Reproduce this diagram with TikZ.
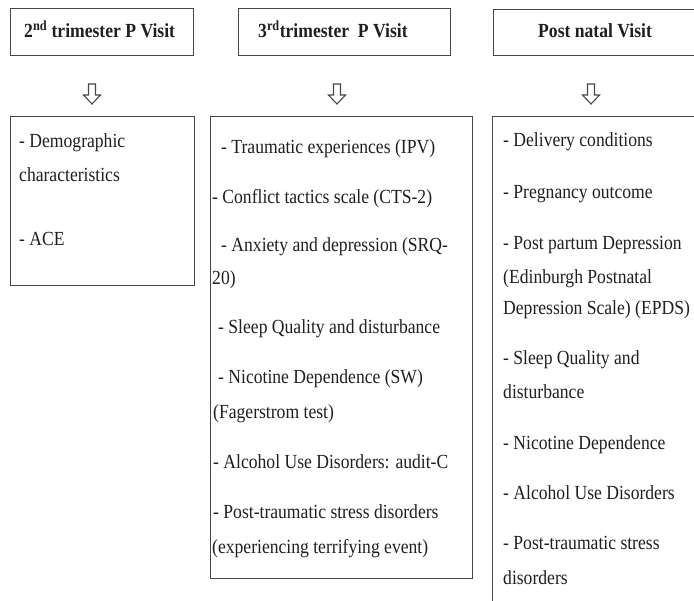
\documentclass[tikz,border=0pt]{standalone}
\usepackage{fontspec}
\setmainfont{Liberation Serif}[FakeStretch=0.88]
\begin{document}
\begin{tikzpicture}[x=1pt,y=-1pt,
  box/.style={draw=black!72,line width=1.3pt,inner sep=0pt,anchor=north west},
  txt/.style={anchor=base west,inner sep=0pt,text=black!88,font=\fontsize{20}{24}\selectfont},
  head/.style={anchor=base west,inner sep=0pt,text=black!88,font=\fontsize{20}{24}\selectfont\bfseries},
  arr/.style={draw=black!72,line width=1.1pt,fill=white,line join=miter},
  downarr/.pic={\draw[arr] (-3.5,0) -- (-3.5,11) -- (-8.5,11) -- (0,20) -- (8.5,11) -- (3.5,11) -- (3.5,0) -- cycle;}]
\useasboundingbox (0,0) rectangle (694,601);
\clip (0,0) rectangle (694,601);
% header boxes
\node[box,minimum width=183pt,minimum height=47pt] (h1) at (10,8) {};
\node[box,minimum width=212pt,minimum height=47pt] (h2) at (238,8) {};
\node[box,minimum width=230pt,minimum height=46pt] (h3) at (493,9) {};
\node[head] (h1t) at (24,38) {2\textsuperscript{nd} trimester P Visit};
\node[head] (h2t) at (258,38) {3\textsuperscript{rd}trimester\ \ P Visit};
\node[head] (h3t) at (538,38) {Post natal Visit};
% arrows
\coordinate (a1) at (92,84);
\coordinate (a2) at (337,84);
\coordinate (a3) at (591,84);
\pic at (a1) {downarr};
\pic at (a2) {downarr};
\pic at (a3) {downarr};
% content boxes
\node[box,minimum width=184pt,minimum height=169pt] (b1) at (10,116) {};
\node[box,minimum width=262pt,minimum height=462pt] (b2) at (210,116) {};
\node[box,minimum width=240pt,minimum height=530pt] (b3) at (492,116) {};
% box 1 text
\node[txt] (p1) at (19,148) {- Demographic};
\node[txt] (p2) at (19,182) {characteristics};
\node[txt] (p3) at (19,246) {- ACE};
% box 2 text
\node[txt] (q1) at (221,154) {- Traumatic experiences (IPV)};
\node[txt] (q2) at (212,204) {- Conflict tactics scale (CTS-2)};
\node[txt] (q3) at (221,252) {- Anxiety and depression (SRQ-};
\node[txt] (q4) at (212,285) {20)};
\node[txt] (q5) at (218,334) {- Sleep Quality and disturbance};
\node[txt] (q6) at (218,384) {- Nicotine Dependence (SW)};
\node[txt] (q7) at (213,419) {(Fagerstrom test)};
\node[txt] (q8) at (213,469) {- Alcohol Use Disorders: audit-C};
\node[txt] (q9) at (213,519) {- Post-traumatic stress disorders};
\node[txt] (q10) at (212,554) {(experiencing terrifying event)};
% box 3 text
\node[txt] (r1) at (503,147) {- Delivery conditions};
\node[txt] (r2) at (503,199) {- Pregnancy outcome};
\node[txt] (r3) at (503,250) {- Post partum Depression};
\node[txt] (r4) at (503,284) {(Edinburgh Postnatal};
\node[txt] (r5) at (503,315) {Depression Scale) (EPDS)};
\node[txt] (r6) at (503,365) {- Sleep Quality and};
\node[txt] (r7) at (503,399) {disturbance};
\node[txt] (r8) at (503,450) {- Nicotine Dependence};
\node[txt] (r9) at (503,500) {- Alcohol Use Disorders};
\node[txt] (r10) at (503,550) {- Post-traumatic stress};
\node[txt] (r11) at (503,584) {disorders};
\end{tikzpicture}
\end{document}
